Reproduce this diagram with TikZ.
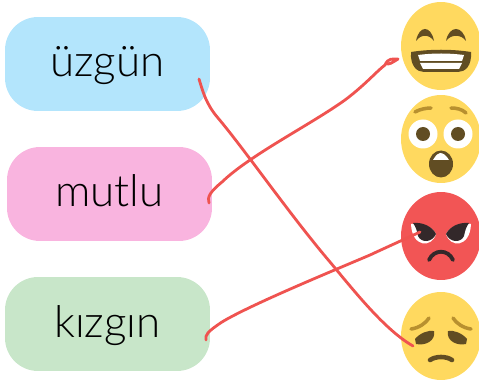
\documentclass[tikz,border=0pt]{standalone}
\usepackage{fontspec}
\setmainfont{Lato Light}
\usetikzlibrary{shapes.geometric}
\definecolor{mavi}{HTML}{B3E5FC}
\definecolor{pembe}{HTML}{F9B4DF}
\definecolor{yesil}{HTML}{C8E6C9}
\definecolor{sari}{HTML}{FFD95F}
\definecolor{kirmizi}{HTML}{F25555}
\definecolor{kahve}{HTML}{614D23}
\definecolor{kas}{HTML}{B8902F}
\definecolor{koyu}{HTML}{33282A}
\definecolor{cizgi}{HTML}{EF5350}
\tikzset{
kutu/.style={rounded corners=0.66cm,minimum width=4.1cm,minimum height=1.88cm,inner sep=0,
  text=black,font=\fontsize{25}{30}\selectfont,text height=0.8cm,text depth=0.28cm},
yuz/.style={ellipse,minimum width=1.6cm,minimum height=1.76cm,inner sep=0},
baglanti/.style={draw=cizgi,line width=1.6pt,line cap=round,line join=round},
kasci/.style={draw=kas,line width=2pt,line cap=round},
}
\begin{document}
\begin{tikzpicture}[x=0.02cm,y=-0.02cm]
\clip (0,0) rectangle (479,381);
\node[kutu,fill=mavi] (uzgun) at (107.5,64) {üzgün};
\node[kutu,fill=pembe] (mutlu) at (109.5,194) {mutlu};
\node[kutu,fill=yesil] (kizgin) at (107.5,324) {kızgın};
\node[yuz,fill=sari] (gulen) at (441,46) {};
\node[yuz,fill=sari] (saskin) at (441,139) {};
\node[yuz,fill=kirmizi] (kizginy) at (441,236) {};
\node[yuz,fill=sari] (uzgunyuz) at (441,336) {};
% gulen
\fill[kahve] (416,41) .. controls (419,25) and (431,25) .. (434,41) .. controls (429,34) and (421,34) .. (416,41);
\fill[kahve] (446,41) .. controls (449,25) and (463,25) .. (466,41) .. controls (461,34) and (451,34) .. (446,41);
\fill[kahve] (411,52) .. controls (430,49) and (452,49) .. (471,52) .. controls (472,66) and (465,72) .. (458,72) -- (424,72) .. controls (417,72) and (410,66) .. (411,52);
\fill[white] (418,55) .. controls (433,53) and (449,53) .. (464,55) -- (462,61) -- (420,61) -- cycle;
\fill[white] (420,63) -- (462,63) -- (459,69) -- (423,69) -- cycle;
% saskin
\draw[kasci] (415,112) .. controls (420,109) and (427,108) .. (431,108);
\draw[kasci] (451,108) .. controls (456,108) and (462,109) .. (466,113);
\fill[white] (423,134) circle (14.5);
\fill[white] (458,134) circle (14.5);
\fill[kahve] (423,134) circle (7);
\fill[kahve] (458,134) circle (7);
\fill[kahve] (441,164) ellipse (12 and 13.5);
\fill[white] (433,160) .. controls (436,155) and (438,153) .. (440,153) .. controls (443,153) and (446,155) .. (449,160) -- cycle;
% kizgin
\fill[white] (411,224) .. controls (420,222) and (432,226) .. (436,234) .. controls (432,248) and (412,248) .. (411,224);
\fill[white] (471,224) .. controls (462,222) and (450,226) .. (446,234) .. controls (450,248) and (470,248) .. (471,224);
\fill[koyu] (413,223) .. controls (422,222) and (432,226) .. (436,234) .. controls (432,243) and (421,243) .. (418,236) .. controls (417,231) and (416,227) .. (413,223);
\fill[koyu] (469,223) .. controls (460,222) and (450,226) .. (446,234) .. controls (450,243) and (461,243) .. (464,236) .. controls (465,231) and (466,227) .. (469,223);
\draw[koyu,line width=2.2pt,line cap=round] (429,260) .. controls (434,249) and (448,249) .. (453,260);
% uzgunyuz
\draw[kasci] (411,329) .. controls (419,328) and (426,323) .. (429,318);
\draw[kasci] (453,318) .. controls (456,323) and (463,328) .. (471,329);
\fill[kahve] (415,339) .. controls (420,333) and (428,330) .. (434,331) .. controls (436,341) and (425,346) .. (416,344) -- cycle;
\fill[kahve] (448,331) .. controls (454,330) and (462,333) .. (467,339) -- (466,344) .. controls (457,346) and (446,341) .. (448,331);
\draw[kahve,line width=2.6pt,line cap=round] (430,360) .. controls (436,356) and (446,356) .. (452,360);
% cizgiler
\coordinate (a1) at (199,79);
\coordinate (a2) at (413,346);
\coordinate (b1) at (209,203);
\coordinate (b2) at (398,59);
\coordinate (c1) at (206,340);
\coordinate (c2) at (420,232);
\draw[baglanti] (a1) .. controls (203,92) and (206,104) .. (218,118) .. controls (245,150) and (290,215) .. (330,262) .. controls (355,292) and (385,330) .. (a2);
\draw[baglanti] (b1) .. controls (207,197) and (210,192) .. (222,182) .. controls (250,155) and (310,125) .. (345,100) .. controls (365,85) and (378,70) .. (385,65) .. controls (388,58) and (392,59) .. (b2) .. controls (393,62) and (388,66) .. (386,63);
\draw[baglanti] (c1) .. controls (205,335) and (207,332) .. (222,322) .. controls (250,305) and (330,272) .. (370,255) .. controls (385,248) and (405,239) .. (c2);
\end{tikzpicture}
\end{document}
